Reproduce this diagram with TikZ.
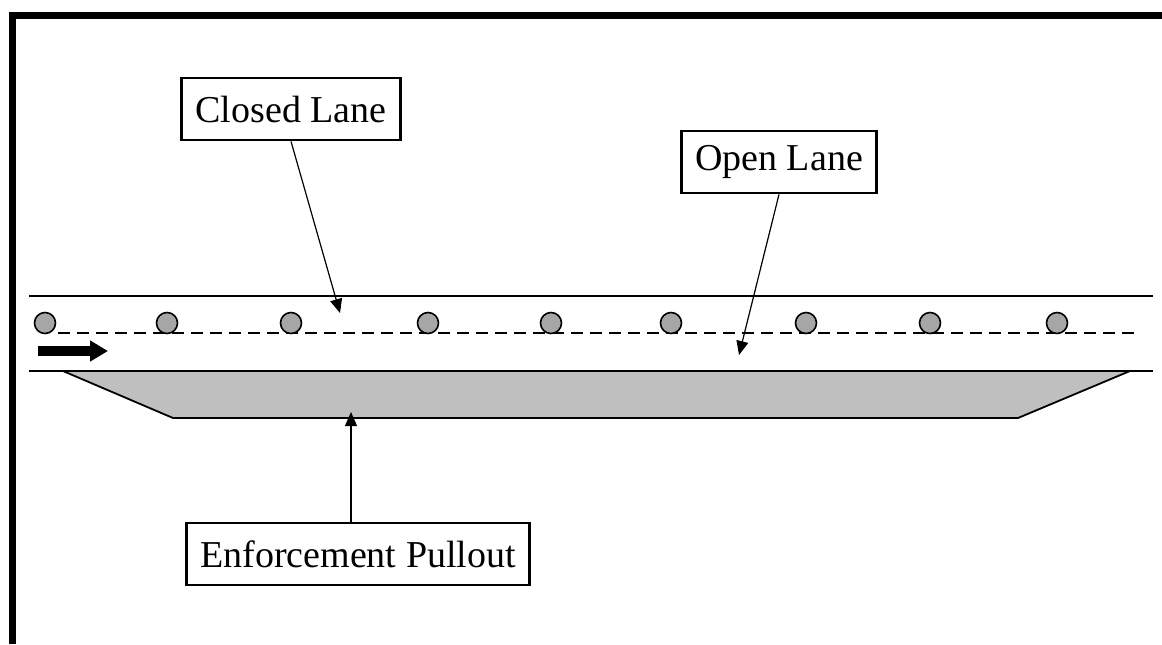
\documentclass[tikz,border=0pt]{standalone}
\usepackage{fontspec}
\setmainfont{Liberation Serif}
\usetikzlibrary{arrows.meta}

\begin{document}
\begin{tikzpicture}[x=0.5pt,y=-0.5pt]
  \tikzset{label box/.style={draw,line width=1.4pt,fill=white,inner xsep=7pt,minimum height=31pt,font=\fontsize{19}{22}\selectfont},
    pointer/.style={line width=0.6pt,-{Triangle[length=7pt,width=6pt]}},
    cone/.style={draw,line width=0.8pt,fill=gray!70}}
  \useasboundingbox (0,0) rectangle (1162,644);
  % frame
  \draw[line width=3.5pt] (12,644) -- (12,15) -- (1162,15);
  % pullout
  \draw[fill=gray!50,line width=0.9pt] (63,371) -- (173,418) -- (1018,418) -- (1130,371);
  % road edges and lane line
  \draw[line width=1.1pt] (29,296) -- (1153,296);
  \draw[line width=1.1pt] (29,371) -- (1153,371);
  \draw[line width=1.1pt,dash pattern=on 6pt off 3.5pt] (58,333) -- (1135,333);
  \foreach \cx in {45,167,291,428,551,671,806,930,1057}
    \draw[cone] (\cx,323) circle (10.5);
  % traffic direction
  \draw[line width=5pt,-{Triangle[length=9pt,width=10pt]}] (38,351) -- (108,351);
  % labels
  \node[label box] (closed) at (291,109) {Closed Lane};
  \node[label box] (open) at (779,162) {Open Lane};
  \node[label box] (enf) at (358,554) {Enforcement Pullout};
  \coordinate (tipC) at (340,313);
  \coordinate (tipO) at (739,355);
  \coordinate (tipE) at (351,412);
  \draw[pointer] (closed.south) -- (tipC);
  \draw[pointer] (open.south) -- (tipO);
  \draw[pointer] (enf.north -| tipE) -- (tipE);
\end{tikzpicture}
\end{document}
